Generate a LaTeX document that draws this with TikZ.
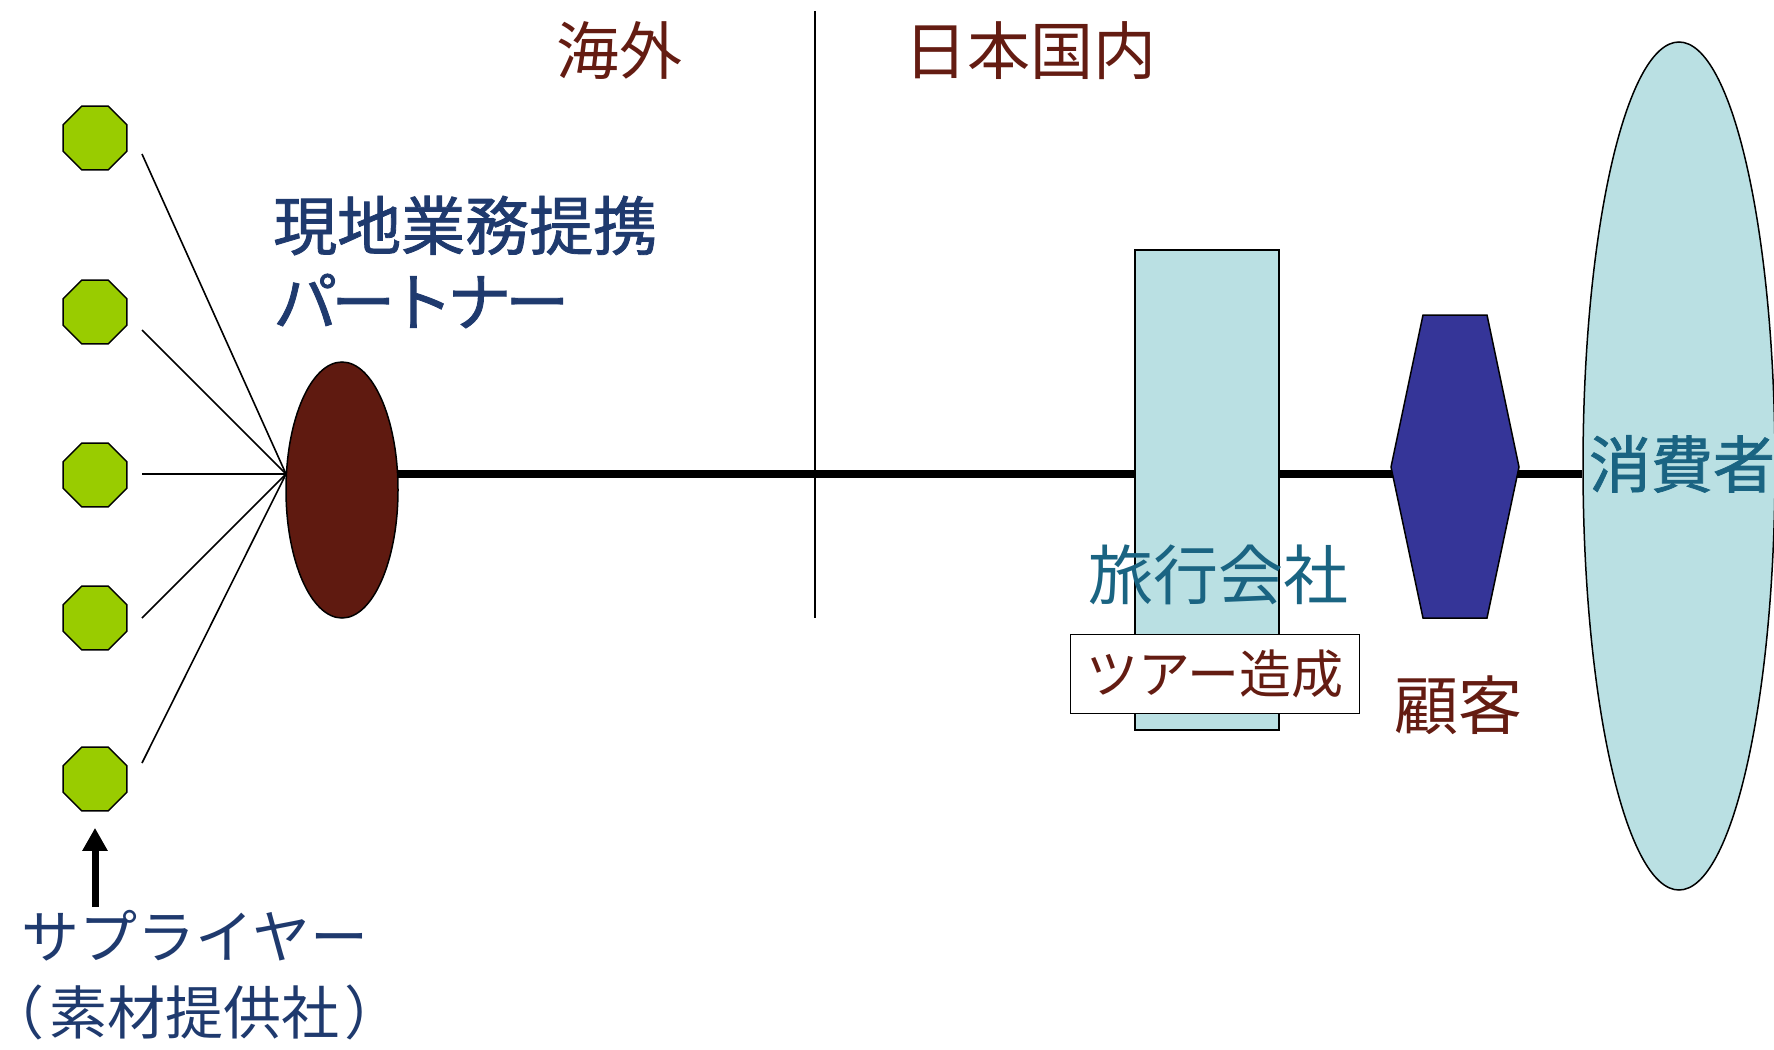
\documentclass[tikz,border=0pt]{standalone}
\usepackage{fontspec}
\newfontfamily\jp{Noto Sans CJK JP}
\newfontfamily\jpm[FakeBold=1.3]{Noto Sans CJK JP}
\usetikzlibrary{shapes.geometric,arrows.meta}
\definecolor{octgreen}{HTML}{99CC00}
\definecolor{partnerbrown}{HTML}{5F1A10}
\definecolor{txtbrown}{HTML}{641C12}
\definecolor{txtblue}{HTML}{1F3A6E}
\definecolor{txtteal}{HTML}{1A6482}
\definecolor{paleblue}{HTML}{BAE0E3}
\definecolor{hexblue}{HTML}{353598}
\tikzset{
  oct/.style={regular polygon, regular polygon sides=8, minimum size=69pt, inner sep=0pt, outer sep=0pt, fill=octgreen, draw=black, line width=1.5pt},
  fan/.style={line width=1.6pt},
  spine/.style={line width=7.5pt},
  divider/.style={line width=1.5pt},
  shapeline/.style={draw=black, line width=1.5pt},
  jtext/.style={inner sep=0pt, font=\jp\fontsize{#1}{#1}\selectfont},
}
\begin{document}
\begin{tikzpicture}[x=1pt,y=-1pt]
\useasboundingbox (0,0) rectangle (1774,1049);
% coordinates
\coordinate (hub) at (286,474);
\coordinate (s1) at (142,154);
\coordinate (s2) at (142,330);
\coordinate (s3) at (142,474);
\coordinate (s4) at (142,618);
\coordinate (s5) at (142,763);
\coordinate (dtop) at (815,11);
\coordinate (dbot) at (815,618);
\coordinate (arrowstart) at (95,907);
% consumer ellipse node (for spine end)
\node[ellipse, shapeline, fill=paleblue, minimum width=192pt, minimum height=848pt, inner sep=0pt] (consumer) at (1679,466) {};
% spine
\draw[spine] (hub) -- (consumer.west |- hub);
% divider
\draw[divider] (dtop) -- (dbot);
% fan lines
\foreach \i in {1,...,5} \draw[fan] (s\i) -- (hub);
% octagons
\node[oct] (o1) at (95,138) {};
\node[oct] (o2) at (95,312) {};
\node[oct] (o3) at (95,475) {};
\node[oct] (o4) at (95,618) {};
\node[oct] (o5) at (95,779) {};
% partner ellipse
\node[ellipse, shapeline, fill=partnerbrown, minimum width=112pt, minimum height=256pt, inner sep=0pt] (partner) at (342,490) {};
% travel company rectangle
\node[rectangle, shapeline, fill=paleblue, minimum width=144pt, minimum height=480pt, inner sep=0pt] (travel) at (1207,490) {};
% customer hexagon
\coordinate (h1) at (1423,315);
\coordinate (h2) at (1487,315);
\coordinate (h3) at (1519,467);
\coordinate (h4) at (1487,618);
\coordinate (h5) at (1423,618);
\coordinate (h6) at (1391,467);
\filldraw[shapeline, fill=hexblue] (h1) -- (h2) -- (h3) -- (h4) -- (h5) -- (h6) -- cycle;
% tour box
\node[rectangle, shapeline, fill=white, minimum width=289pt, minimum height=79pt, inner sep=0pt, text=txtbrown, font=\jp\fontsize{52}{52}\selectfont] (tour) at (1215,674) {ツアー造成};
% texts
\node[jtext=63, text=txtbrown] (kaigai) at (619,51) {海外};
\node[jtext=63, text=txtbrown] (kokunai) at (1030,51) {日本国内};
\node[jtext=64, text=txtblue, align=left, anchor=west, font=\jpm\fontsize{64}{76}\selectfont] (partnerlbl) at (273,262) {現地業務提携\\パ\kern-6pt ー\kern-6pt ト\kern-6pt ナ\kern-6pt ー};
\node[jtext=65, text=txtteal] (travellbl) at (1218,575) {旅行会社};
\node[jtext=64, text=txtbrown] (custlbl) at (1458,705) {顧客};
\node[jtext=62, text=txtteal, font=\jpm\fontsize{62}{62}\selectfont] (conslbl) at (1682,464) {消費者};
\node[jtext=58, text=txtblue, align=center, font=\jp\fontsize{58}{76}\selectfont] (supplier) at (195,975) {サプライヤー\\（\kern5pt 素材提供社\kern5pt ）};
% arrow
\draw[line width=7pt, -{Triangle[width=24pt,length=23pt]}] (arrowstart) -- ([yshift=-17pt]o5.south);
\end{tikzpicture}
\end{document}
